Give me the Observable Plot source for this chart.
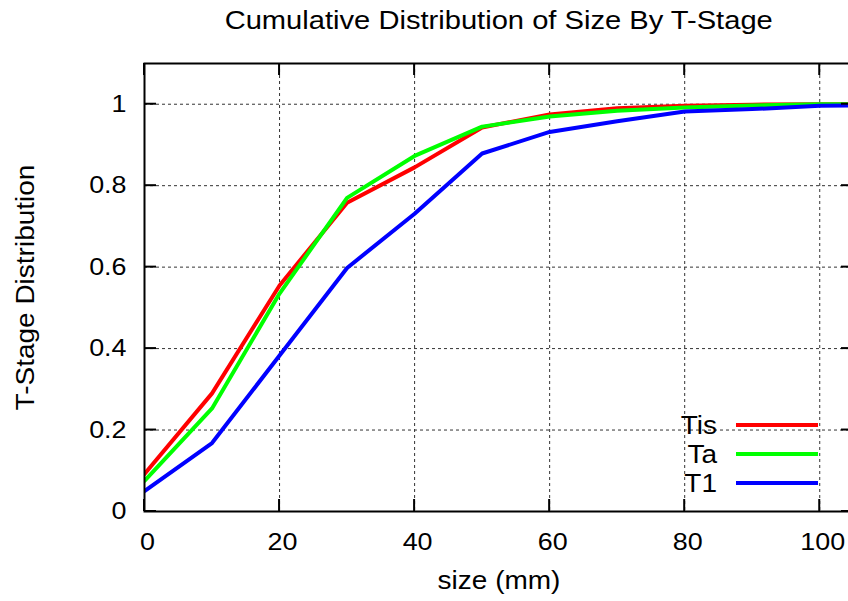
<!DOCTYPE html>
<html>
<head>
<meta charset="utf-8">
<script src="https://cdn.jsdelivr.net/npm/d3@7"></script>
<script src="https://cdn.jsdelivr.net/npm/@observablehq/plot@0.6"></script>
<style>
  html, body { margin: 0; padding: 0; background: #fff; overflow: hidden; width: 848px; height: 601px; }
  #title { height: 40px; line-height: 40px; margin-left: 144px; width: 709px; text-align: center;
           font-family: "Liberation Sans", Arial, sans-serif; font-size: 26px; color: #000; white-space: nowrap; }
  #title span { display: inline-block; transform: scaleX(1.12); }
  #chart svg { max-width: none !important; }
</style>
</head>
<body>
<div id="title"><span>Cumulative Distribution of Size By T-Stage</span></div>
<div id="chart"></div>
<script>
// ---- data ----
const sizes = [0, 10, 20, 30, 40, 50, 60, 70, 80, 90, 100, 110];
const seriesNames = ["Tis", "Ta", "T1"];
const seriesColors = ["#ff0000", "#00ff00", "#0000ff"];
const tisValues = [0.092, 0.290, 0.555, 0.758, 0.845, 0.943, 0.975, 0.990, 0.996, 0.999, 1.000, 1.000];
const taValues  = [0.075, 0.253, 0.535, 0.770, 0.873, 0.945, 0.970, 0.984, 0.992, 0.997, 1.000, 1.000];
const t1Values  = [0.050, 0.168, 0.383, 0.598, 0.731, 0.879, 0.932, 0.958, 0.982, 0.988, 0.996, 0.998];
const xTicks = [0, 20, 40, 60, 80, 100];
const xTickLabels = ["0", "20", "40", "60", "80", "100"];
const yTicks = [0, 0.2, 0.4, 0.6, 0.8, 1];
const yTickLabels = ["0", "0.2", "0.4", "0.6", "0.8", "1"];
const xGrid = [20, 40, 60, 80, 100];
const yGrid = [0.2, 0.4, 0.6, 0.8, 1];
const titleText = "Cumulative Distribution of Size By T-Stage";
const xLabel = "size (mm)";
const yLabel = "T-Stage Distribution";

const valuesBySeries = [tisValues, taValues, t1Values];
const rows = [];
seriesNames.forEach((name, s) => {
  sizes.forEach((x, i) => rows.push({series: name, size: x, value: valuesBySeries[s][i]}));
});

const STRETCH = 1.12;
const FONT = "'Liberation Sans', Arial, sans-serif";
const TICK = 12;

// inward, mirrored tick marks on all four sides (gnuplot style), placed with Plot's scales
function tickMarks(index, scales, values, dims) {
  const g = d3.create("svg:g").attr("stroke", "#000").attr("stroke-width", 2);
  const left = dims.marginLeft, right = dims.width - dims.marginRight;
  const top = dims.marginTop, bottom = dims.height - dims.marginBottom;
  xTicks.forEach((v) => {
    const x = scales.x(v);
    g.append("line").attr("x1", x).attr("x2", x).attr("y1", bottom).attr("y2", bottom - TICK);
    g.append("line").attr("x1", x).attr("x2", x).attr("y1", top).attr("y2", top + TICK);
  });
  yTicks.forEach((v) => {
    const y = scales.y(v);
    g.append("line").attr("x1", left).attr("x2", left + TICK).attr("y1", y).attr("y2", y);
    g.append("line").attr("x1", right).attr("x2", right - TICK).attr("y1", y).attr("y2", y);
  });
  return g.node();
}

function legendMark(index, scales, values, dims) {
  const g = d3.create("svg:g").attr("font-family", FONT).attr("font-size", 25);
  const right = dims.width - dims.marginRight;
  const bottom = dims.height - dims.marginBottom;
  seriesNames.forEach((name, i) => {
    const y = bottom - 86 + 29 * i;
    g.append("text")
      .attr("transform", `translate(${right - 136},${y}) scale(${STRETCH},1)`)
      .attr("text-anchor", "end")
      .attr("dy", "0.36em")
      .attr("fill", "#000")
      .text(name);
    g.append("line")
      .attr("x1", right - 117).attr("x2", right - 35)
      .attr("y1", y).attr("y2", y)
      .attr("stroke", scales.color(name))
      .attr("stroke-width", 4);
  });
  return g.node();
}

const chart = Plot.plot({
  width: 860,
  height: 561,
  marginLeft: 144,
  marginRight: 7,
  marginTop: 23,
  marginBottom: 90,
  style: {fontFamily: FONT, fontSize: "24px", color: "#000", background: "#fff", overflow: "visible", maxWidth: "none"},
  x: {domain: [0, 105]},
  y: {domain: [0, 1.1]},
  color: {domain: seriesNames, range: seriesColors},
  marks: [
    Plot.gridX(xGrid, {stroke: "#333", strokeOpacity: 1, strokeWidth: 1, strokeDasharray: "3,3"}),
    Plot.gridY(yGrid, {stroke: "#333", strokeOpacity: 1, strokeWidth: 1, strokeDasharray: "3,3"}),
    Plot.line(rows, {x: "size", y: "value", stroke: "series", z: "series", strokeWidth: 4, clip: true}),
    Plot.frame({stroke: "#000", strokeWidth: 2}),
    tickMarks,
    Plot.axisX(xTicks, {anchor: "bottom", tickSize: 0, tickPadding: 21, dx: 3,
      tickFormat: (d) => xTickLabels[xTicks.indexOf(d)], label: null}),
    Plot.axisY(yTicks, {anchor: "left", tickSize: 0, tickPadding: 18,
      tickFormat: (d) => yTickLabels[yTicks.indexOf(d)], label: null}),
    Plot.text([yLabel], {frameAnchor: "left", dx: -119, rotate: -90, textAnchor: "middle", fontSize: 25, fill: "#000"}),
    Plot.text([xLabel], {frameAnchor: "bottom", dy: 77, textAnchor: "middle", fontSize: 25, fill: "#000"}),
    legendMark
  ]
});

// horizontal stretch of all texts to match the reference's wide glyphs
d3.select(chart).selectAll("text").each(function () {
  const t = this.getAttribute("transform") || "";
  if (t.includes("scale(")) return;
  this.setAttribute("transform", `${t} scale(${STRETCH},1)`);
});

document.getElementById("chart").appendChild(chart);
</script>
</body>
</html>
